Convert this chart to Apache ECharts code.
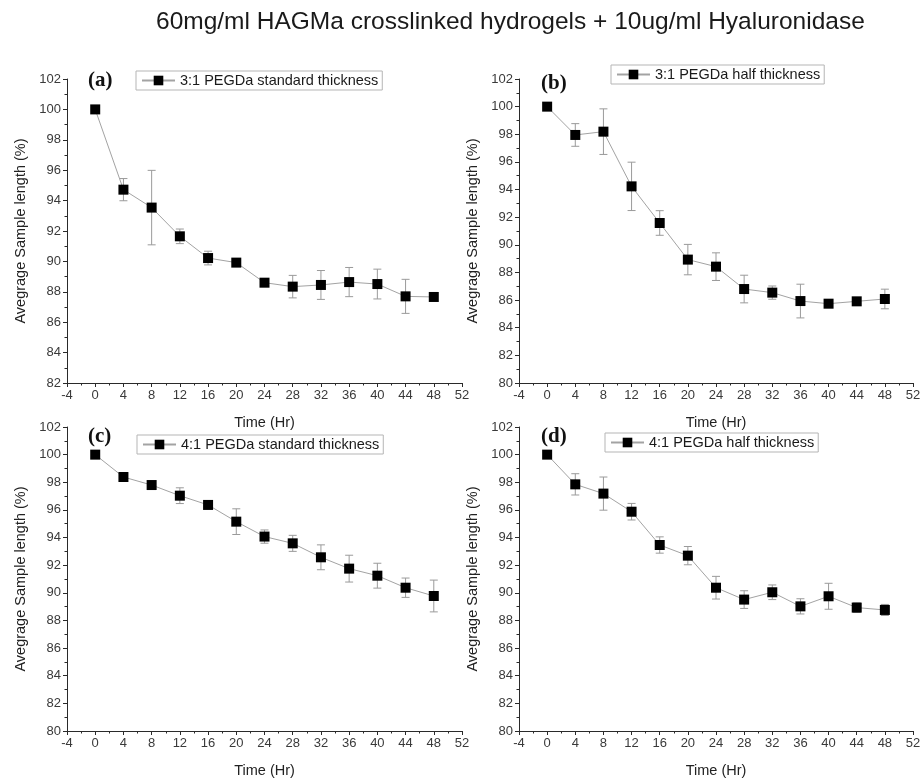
<!DOCTYPE html>
<html><head><meta charset="utf-8">
<script src="https://cdn.jsdelivr.net/npm/echarts@6/dist/echarts.min.js"></script>
<style>html,body{margin:0;padding:0;background:#fff}#c{width:924px;height:781px}</style>
</head><body><div id="c"></div>
<script>
// ---------- data ----------
const mainTitle = '60mg/ml HAGMa crosslinked hydrogels + 10ug/ml Hyaluronidase';
const hours = [0, 4, 8, 12, 16, 20, 24, 28, 32, 36, 40, 44, 48];
const panelLabels = ['(a)', '(b)', '(c)', '(d)'];
const seriesNames = [
  '3:1 PEGDa standard thickness',
  '3:1 PEGDa half thickness',
  '4:1 PEGDa standard thickness',
  '4:1 PEGDa half thickness'
];
const valuesA = [100, 94.72, 93.54, 91.65, 90.22, 89.92, 88.6, 88.34, 88.45, 88.64, 88.51, 87.7, 87.66];
const errorsA = [0, 0.73, 2.45, 0.48, 0.45, 0.24, 0.1, 0.74, 0.95, 0.96, 0.98, 1.12, 0.1];
const valuesB = [100, 97.95, 98.19, 94.23, 91.58, 88.93, 88.42, 86.8, 86.54, 85.93, 85.74, 85.91, 86.08];
const errorsB = [0, 0.82, 1.65, 1.75, 0.89, 1.1, 1.0, 1.0, 0.48, 1.22, 0.2, 0.15, 0.71];
const valuesC = [100, 98.38, 97.8, 97.03, 96.36, 95.15, 94.07, 93.58, 92.57, 91.75, 91.24, 90.37, 89.77];
const errorsC = [0, 0.1, 0.1, 0.57, 0.15, 0.93, 0.48, 0.58, 0.9, 0.97, 0.9, 0.7, 1.15];
const valuesD = [100, 97.85, 97.18, 95.87, 93.46, 92.69, 90.37, 89.51, 90.04, 89.02, 89.75, 88.93, 88.76];
const errorsD = [0, 0.77, 1.2, 0.6, 0.59, 0.66, 0.82, 0.64, 0.53, 0.55, 0.94, 0.35, 0.4];
const xMin = -4, xMax = 52, xStep = 4;
const yMins = [82, 80, 80, 80];
const yMax = 102, yStep = 2;
const xAxisName = 'Time (Hr)';
const yAxisName = 'Avegrage Sample length (%)';

// ---------- layout / style ----------
const allValues = [valuesA, valuesB, valuesC, valuesD];
const allErrors = [errorsA, errorsB, errorsC, errorsD];
const grids = [
  {left: 67, top: 79, width: 395, height: 304},
  {left: 519, top: 79, width: 394, height: 304},
  {left: 67, top: 427, width: 395, height: 304},
  {left: 519, top: 427, width: 394, height: 304}
];
const legendPos = [
  {left: 136, top: 71}, {left: 611, top: 65},
  {left: 137, top: 435}, {left: 605, top: 433}
];
const labelPos = [
  {left: 88, top: 70}, {left: 541, top: 73},
  {left: 88, top: 426}, {left: 541, top: 426}
];
const FONT = '"Liberation Sans", Arial, sans-serif';
const axisColor = '#2a2a2a';
const labelColor = '#3a3a3a';
const lineGrey = '#a3a3a3';
const errGrey = '#9a9a9a';

function errRender(params, api) {
  const x = api.value(0), y = api.value(1), e = api.value(2);
  const top = api.coord([x, y + e]);
  const bot = api.coord([x, y - e]);
  const w = 4;
  const st = {stroke: errGrey, lineWidth: 1};
  return {type: 'group', children: [
    {type: 'line', shape: {x1: top[0], y1: top[1], x2: bot[0], y2: bot[1]}, style: st},
    {type: 'line', shape: {x1: top[0] - w, y1: top[1], x2: top[0] + w, y2: top[1]}, style: st},
    {type: 'line', shape: {x1: bot[0] - w, y1: bot[1], x2: bot[0] + w, y2: bot[1]}, style: st}
  ]};
}

const xAxes = grids.map((g, i) => ({
  type: 'value', gridIndex: i, min: xMin, max: xMax, interval: xStep,
  axisLine: {show: true, onZero: false, lineStyle: {color: axisColor, width: 1}},
  axisTick: {show: true, inside: false, length: 4, lineStyle: {color: axisColor}},
  minorTick: {show: true, splitNumber: 2, length: 2.5, lineStyle: {color: axisColor}},
  splitLine: {show: false},
  axisLabel: {fontSize: 13, color: labelColor, margin: 6, fontFamily: FONT},
  name: xAxisName, nameLocation: 'middle', nameGap: 32,
  nameTextStyle: {fontSize: 14.5, color: '#222', fontFamily: FONT}
}));
const yAxes = grids.map((g, i) => ({
  type: 'value', gridIndex: i, min: yMins[i], max: yMax, interval: yStep,
  axisLine: {show: true, onZero: false, lineStyle: {color: axisColor, width: 1}},
  axisTick: {show: true, inside: false, length: 4, lineStyle: {color: axisColor}},
  minorTick: {show: true, splitNumber: 2, length: 2.5, lineStyle: {color: axisColor}},
  splitLine: {show: false},
  axisLabel: {fontSize: 13, color: labelColor, margin: 6, fontFamily: FONT},
  name: yAxisName, nameLocation: 'middle', nameGap: 39,
  nameTextStyle: {fontSize: 14.5, color: '#222', fontFamily: FONT}
}));

const series = [];
allValues.forEach((vals, i) => {
  series.push({
    type: 'custom', name: seriesNames[i] + ' err', xAxisIndex: i, yAxisIndex: i,
    renderItem: errRender, z: 1, silent: true,
    encode: {x: 0, y: 1},
    data: hours.map((h, k) => [h, vals[k], allErrors[i][k]])
  });
  series.push({
    type: 'line', name: seriesNames[i], xAxisIndex: i, yAxisIndex: i, z: 3,
    symbol: 'rect', symbolSize: 10, showAllSymbol: true,
    itemStyle: {color: '#000'},
    lineStyle: {color: lineGrey, width: 1},
    animation: false,
    data: hours.map((h, k) => [h, vals[k]])
  });
});

const titles = [{
  text: mainTitle, left: 156, top: 10, padding: 0,
  textStyle: {fontSize: 24.5, fontWeight: 'normal', color: '#1a1a1a', fontFamily: FONT}
}].concat(panelLabels.map((t, i) => ({
  text: t, left: labelPos[i].left, top: labelPos[i].top, padding: 0,
  textStyle: {fontSize: 21, fontWeight: 'bold', color: '#111', fontFamily: '"Liberation Serif", "Times New Roman", serif'}
})));

const legends = seriesNames.map((n, i) => ({
  data: [n], left: legendPos[i].left, top: legendPos[i].top,
  orient: 'horizontal', padding: [2, 4, 2, 5],
  borderColor: '#b5b5b5', borderWidth: 1, backgroundColor: '#fff',
  itemWidth: 33, itemHeight: 12,
  textStyle: {fontSize: 14.5, color: '#1a1a1a', fontFamily: FONT}
}));

const chart = echarts.init(document.getElementById('c'), null, {renderer: 'canvas'});
chart.setOption({
  animation: false,
  backgroundColor: '#fff',
  title: titles,
  legend: legends,
  grid: grids,
  xAxis: xAxes,
  yAxis: yAxes,
  series: series
});
</script></body></html>
